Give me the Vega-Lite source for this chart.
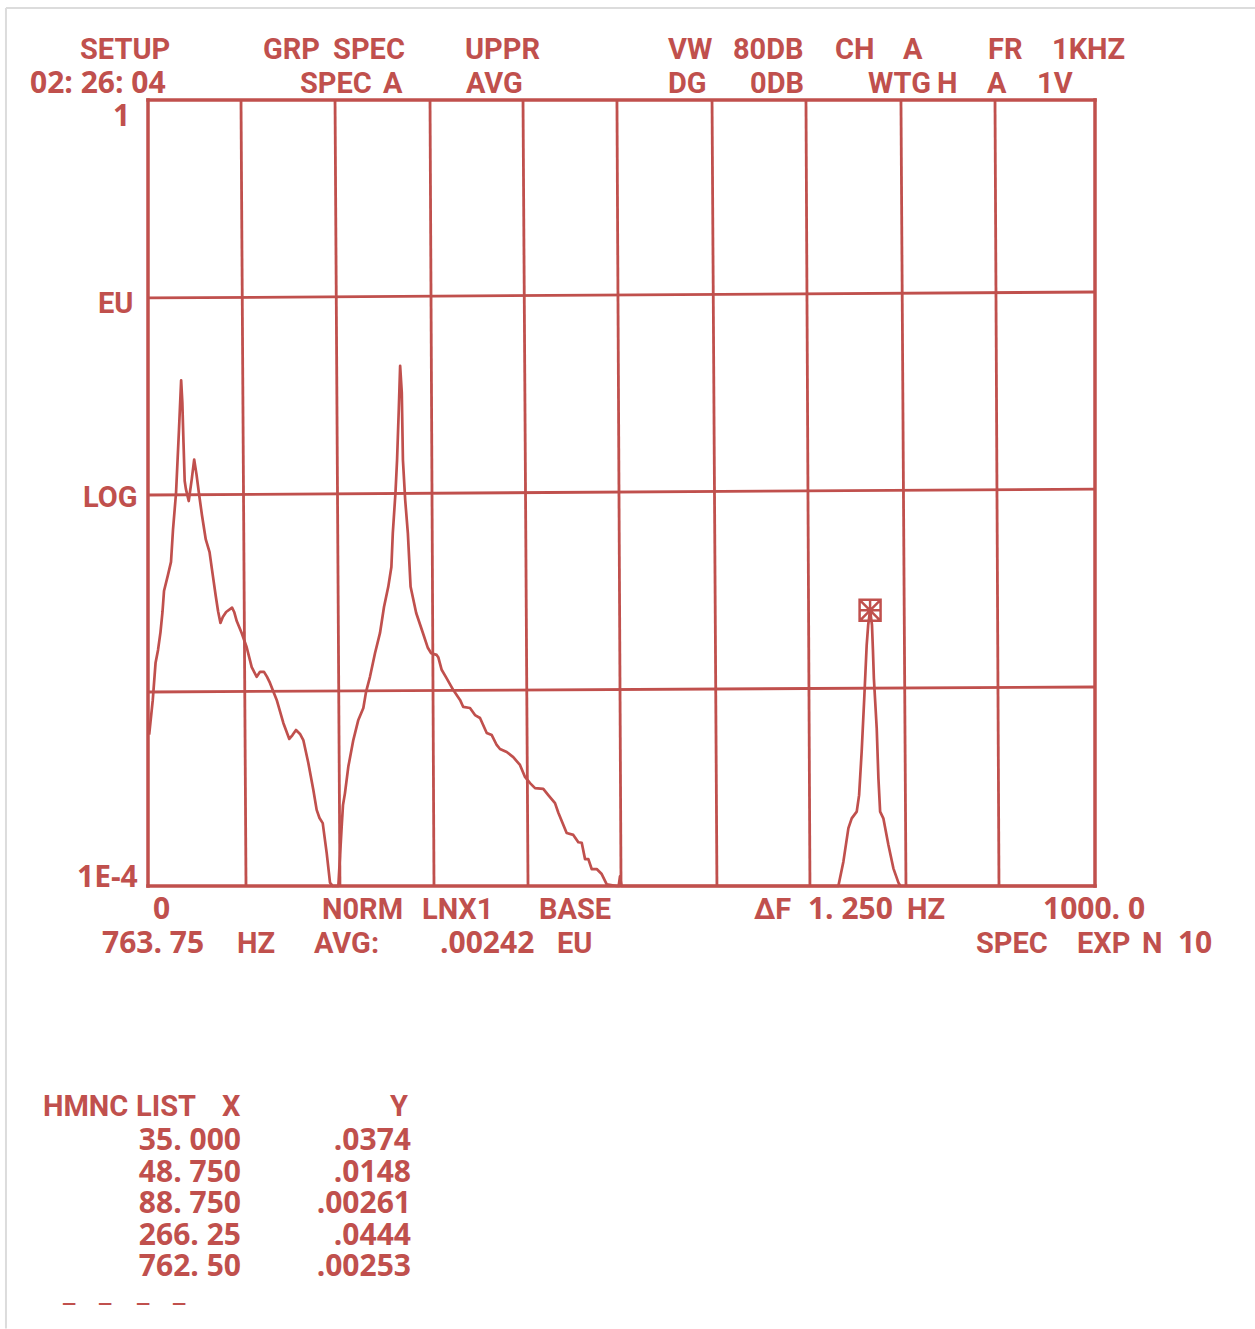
{
  "$schema": "https://vega.github.io/schema/vega-lite/v6.json",
  "width": 947,
  "height": 786,
  "autosize": {"type": "none"},
  "padding": {"left": 148, "top": 100, "right": 160, "bottom": 443},
  "background": "white",
  "config": {"view": {"stroke": null}},
  "datasets": {
    "frame": [
      {"f1": -150, "f2": -150, "v1": 2.94, "v2": 5.6e-7},
      {"f1": -150, "f2": 1169, "v1": 2.94, "v2": 2.94}
    ],
    "grid": [
      {"f1": 98.2, "f2": 103.5, "v1": 1, "v2": 0.0001},
      {"f1": 197.5, "f2": 202.7, "v1": 1, "v2": 0.0001},
      {"f1": 297.8, "f2": 302.0, "v1": 1, "v2": 0.0001},
      {"f1": 396.0, "f2": 401.3, "v1": 1, "v2": 0.0001},
      {"f1": 495.2, "f2": 499.5, "v1": 1, "v2": 0.0001},
      {"f1": 595.6, "f2": 600.8, "v1": 1, "v2": 0.0001},
      {"f1": 694.8, "f2": 699.0, "v1": 1, "v2": 0.0001},
      {"f1": 795.1, "f2": 800.4, "v1": 1, "v2": 0.0001},
      {"f1": 894.4, "f2": 898.6, "v1": 1, "v2": 0.0001},
      {"f1": 0, "f2": 1000, "v1": 0.0983, "v2": 0.1054},
      {"f1": 0, "f2": 1000, "v1": 0.00977, "v2": 0.01047},
      {"f1": 0, "f2": 1000, "v1": 0.000971, "v2": 0.00103}
    ],
    "border": [
      {"f1": 0, "f2": 1000, "v1": 1, "v2": 1},
      {"f1": 0, "f2": 1000, "v1": 0.0001, "v2": 0.0001},
      {"f1": 0, "f2": 0, "v1": 1, "v2": 0.0001},
      {"f1": 1000, "f2": 1000, "v1": 1, "v2": 0.0001}
    ],
    "spectrum": [
      {"f": 1.25, "v": 0.00059}, {"f": 5.0, "v": 0.00088}, {"f": 8.0, "v": 0.00137},
      {"f": 10.6, "v": 0.00159}, {"f": 13.2, "v": 0.00196}, {"f": 15.3, "v": 0.00248},
      {"f": 16.9, "v": 0.00317}, {"f": 21.1, "v": 0.00383}, {"f": 24.3, "v": 0.00446},
      {"f": 26.4, "v": 0.0065}, {"f": 29.6, "v": 0.01}, {"f": 32.7, "v": 0.0209},
      {"f": 35.0, "v": 0.0374}, {"f": 36.25, "v": 0.029}, {"f": 37.5, "v": 0.018},
      {"f": 38.75, "v": 0.0115}, {"f": 40.0, "v": 0.0105}, {"f": 43.0, "v": 0.0091},
      {"f": 46.25, "v": 0.0118}, {"f": 48.75, "v": 0.0148}, {"f": 51.25, "v": 0.0124},
      {"f": 53.75, "v": 0.01}, {"f": 57.0, "v": 0.0077}, {"f": 61.0, "v": 0.0058},
      {"f": 65.0, "v": 0.005}, {"f": 67.5, "v": 0.0041}, {"f": 71.5, "v": 0.003},
      {"f": 74.0, "v": 0.0025}, {"f": 76.5, "v": 0.00218}, {"f": 79.0, "v": 0.00234},
      {"f": 82.5, "v": 0.00248}, {"f": 88.75, "v": 0.00261}, {"f": 91.0, "v": 0.00248},
      {"f": 93.7, "v": 0.00223}, {"f": 98.9, "v": 0.00194}, {"f": 104.2, "v": 0.00164},
      {"f": 109.5, "v": 0.0013}, {"f": 114.8, "v": 0.00116}, {"f": 118.3, "v": 0.00123},
      {"f": 122.5, "v": 0.00123}, {"f": 125.7, "v": 0.00116}, {"f": 128.8, "v": 0.00108},
      {"f": 135.9, "v": 0.000885}, {"f": 142.9, "v": 0.000676}, {"f": 149.2, "v": 0.00056},
      {"f": 152.6, "v": 0.000586}, {"f": 156.3, "v": 0.000622}, {"f": 160.5, "v": 0.000594},
      {"f": 164.0, "v": 0.000553}, {"f": 169.3, "v": 0.000423}, {"f": 174.6, "v": 0.000308},
      {"f": 178.1, "v": 0.000244}, {"f": 181.1, "v": 0.000222}, {"f": 184.5, "v": 0.000209},
      {"f": 188.7, "v": 0.000147}, {"f": 192.2, "v": 0.000104}, {"f": 195.0, "v": 0.0001},
      {"f": 201.0, "v": 0.0001}, {"f": 204.5, "v": 0.0002}, {"f": 205.9, "v": 0.000258},
      {"f": 208.0, "v": 0.000297}, {"f": 211.5, "v": 0.000404}, {"f": 216.8, "v": 0.000553},
      {"f": 222.1, "v": 0.0007}, {"f": 227.4, "v": 0.000805}, {"f": 230.2, "v": 0.00097},
      {"f": 234.4, "v": 0.00116}, {"f": 239.7, "v": 0.00153}, {"f": 245.0, "v": 0.00194},
      {"f": 249.2, "v": 0.00263}, {"f": 253.7, "v": 0.00333}, {"f": 257.0, "v": 0.0042},
      {"f": 258.5, "v": 0.00625}, {"f": 261.3, "v": 0.01}, {"f": 263.0, "v": 0.0147},
      {"f": 264.8, "v": 0.0264}, {"f": 266.25, "v": 0.0444}, {"f": 268.0, "v": 0.0323},
      {"f": 269.2, "v": 0.0147}, {"f": 271.6, "v": 0.0092}, {"f": 274.4, "v": 0.00625},
      {"f": 277.3, "v": 0.00333}, {"f": 283.2, "v": 0.00245}, {"f": 290.3, "v": 0.00194},
      {"f": 295.5, "v": 0.00163}, {"f": 299.0, "v": 0.00153}, {"f": 304.8, "v": 0.0015},
      {"f": 306.5, "v": 0.00146}, {"f": 310.1, "v": 0.00126}, {"f": 315.4, "v": 0.00114},
      {"f": 322.4, "v": 0.000993}, {"f": 329.5, "v": 0.000885}, {"f": 332.9, "v": 0.000815},
      {"f": 340.0, "v": 0.000805}, {"f": 345.3, "v": 0.000741}, {"f": 350.6, "v": 0.000716},
      {"f": 357.7, "v": 0.000601}, {"f": 363.0, "v": 0.000586}, {"f": 368.2, "v": 0.000522},
      {"f": 371.7, "v": 0.000498}, {"f": 378.8, "v": 0.000481}, {"f": 385.7, "v": 0.000453},
      {"f": 392.8, "v": 0.000413}, {"f": 398.1, "v": 0.000359}, {"f": 403.4, "v": 0.000334},
      {"f": 408.7, "v": 0.000315}, {"f": 417.4, "v": 0.000312}, {"f": 422.7, "v": 0.00029},
      {"f": 429.8, "v": 0.000264}, {"f": 433.3, "v": 0.000236}, {"f": 442.1, "v": 0.000186},
      {"f": 449.1, "v": 0.000182}, {"f": 454.4, "v": 0.000167}, {"f": 458.0, "v": 0.000166},
      {"f": 461.5, "v": 0.000137}, {"f": 465.0, "v": 0.000137}, {"f": 468.5, "v": 0.000122},
      {"f": 473.8, "v": 0.000122}, {"f": 479.1, "v": 0.000115}, {"f": 484.4, "v": 0.000102},
      {"f": 495.0, "v": 0.0001}, {"f": 497.0, "v": 0.0001}, {"f": 498.4, "v": 0.000112},
      {"f": 500.0, "v": 0.0001}, {"f": 729.0, "v": 0.0001}, {"f": 734.3, "v": 0.000133},
      {"f": 739.6, "v": 0.000197}, {"f": 743.1, "v": 0.000221}, {"f": 748.4, "v": 0.000239},
      {"f": 750.9, "v": 0.00029}, {"f": 753.6, "v": 0.000482}, {"f": 756.5, "v": 0.000938},
      {"f": 758.9, "v": 0.00168}, {"f": 760.5, "v": 0.00213}, {"f": 762.5, "v": 0.00253},
      {"f": 764.5, "v": 0.00213}, {"f": 765.5, "v": 0.00159}, {"f": 766.5, "v": 0.00114},
      {"f": 769.5, "v": 0.000635}, {"f": 771.3, "v": 0.000353}, {"f": 773.1, "v": 0.000239},
      {"f": 776.5, "v": 0.000221}, {"f": 781.8, "v": 0.000162}, {"f": 787.1, "v": 0.000123},
      {"f": 792.4, "v": 0.000104}, {"f": 794.5, "v": 0.0001}, {"f": 1000.0, "v": 0.0001}
    ],
    "marker": [{"f": 762.5, "v": 0.00253}],
    "words": [
      {"t": "SETUP", "f": -71.8, "v": 1.617},
      {"t": "GRP", "f": 121.4, "v": 1.617},
      {"t": "SPEC", "f": 195.4, "v": 1.617},
      {"t": "UPPR", "f": 334.7, "v": 1.617},
      {"t": "VW", "f": 549.1, "v": 1.617},
      {"t": "80DB", "f": 617.7, "v": 1.617},
      {"t": "CH", "f": 725.4, "v": 1.617},
      {"t": "A", "f": 797.3, "v": 1.617},
      {"t": "FR", "f": 887.0, "v": 1.617},
      {"t": "1KHZ", "f": 954.6, "v": 1.617},
      {"t": "SPEC", "f": 160.5, "v": 1.086},
      {"t": "A", "f": 248.2, "v": 1.086},
      {"t": "AVG", "f": 335.8, "v": 1.086},
      {"t": "DG", "f": 549.1, "v": 1.086},
      {"t": "0DB", "f": 635.7, "v": 1.086},
      {"t": "WTG", "f": 760.3, "v": 1.086},
      {"t": "H", "f": 833.2, "v": 1.086},
      {"t": "A", "f": 886.0, "v": 1.086},
      {"t": "1V", "f": 938.8, "v": 1.086},
      {"t": "EU", "f": -52.8, "v": 0.0824},
      {"t": "LOG", "f": -68.6, "v": 0.00849},
      {"t": "N0RM", "f": 183.7, "v": 6.79e-5},
      {"t": "LNX1", "f": 289.3, "v": 6.79e-5},
      {"t": "BASE", "f": 412.9, "v": 6.79e-5},
      {"t": "ΔF", "f": 639.9, "v": 6.79e-5},
      {"t": "HZ", "f": 801.5, "v": 6.79e-5},
      {"t": "HZ", "f": 94.0, "v": 4.56e-5},
      {"t": "AVG:", "f": 175.3, "v": 4.56e-5},
      {"t": "EU", "f": 431.9, "v": 4.56e-5},
      {"t": "SPEC", "f": 874.3, "v": 4.56e-5},
      {"t": "EXP", "f": 981.0, "v": 4.56e-5},
      {"t": "N", "f": 1049.6, "v": 4.56e-5},
      {"t": "HMNC", "f": -110.9, "v": 6.76e-6},
      {"t": "LIST", "f": -12.7, "v": 6.76e-6},
      {"t": "X", "f": 78.1, "v": 6.76e-6},
      {"t": "Y", "f": 255.5, "v": 6.76e-6}
    ],
    "numbers": [
      {"t": "02: 26: 04", "f": -124.6, "v": 1.086},
      {"t": "1", "f": -37.0, "v": 0.737},
      {"t": "1E-4", "f": -75.0, "v": 9.89e-5},
      {"t": "0", "f": 5.3, "v": 6.79e-5},
      {"t": "1. 250", "f": 696.9, "v": 6.79e-5},
      {"t": "1000. 0", "f": 945.1, "v": 6.79e-5},
      {"t": "763. 75", "f": -48.6, "v": 4.56e-5},
      {"t": ".00242", "f": 308.3, "v": 4.56e-5},
      {"t": "10", "f": 1087.6, "v": 4.56e-5},
      {"t": "_", "f": -89.8, "v": 7.82e-7},
      {"t": "_", "f": -51.7, "v": 7.82e-7},
      {"t": "_", "f": -11.6, "v": 7.82e-7},
      {"t": "_", "f": 26.4, "v": 7.82e-7}
    ],
    "harmonicList": [
      {"t": "35. 000", "f": 98.2, "v": 4.53e-6},
      {"t": "48. 750", "f": 98.2, "v": 3.12e-6},
      {"t": "88. 750", "f": 98.2, "v": 2.17e-6},
      {"t": "266. 25", "f": 98.2, "v": 1.49e-6},
      {"t": "762. 50", "f": 98.2, "v": 1.04e-6},
      {"t": ".0374", "f": 277.7, "v": 4.53e-6},
      {"t": ".0148", "f": 277.7, "v": 3.12e-6},
      {"t": ".00261", "f": 277.7, "v": 2.17e-6},
      {"t": ".0444", "f": 277.7, "v": 1.49e-6},
      {"t": ".00253", "f": 277.7, "v": 1.04e-6}
    ]
  },
  "layer": [
    {
      "data": {"name": "frame"},
      "mark": {"type": "rule", "color": "#dcdcdc", "strokeWidth": 2},
      "encoding": {
        "x": {"field": "f1", "type": "quantitative", "scale": {"domain": [0, 1000], "nice": false, "zero": false}, "axis": null},
        "x2": {"field": "f2"},
        "y": {"field": "v1", "type": "quantitative", "scale": {"type": "log", "domain": [0.0001, 1], "nice": false}, "axis": null},
        "y2": {"field": "v2"}
      }
    },
    {
      "data": {"name": "grid"},
      "mark": {"type": "rule", "color": "#c0504d", "strokeWidth": 2.8},
      "encoding": {
        "x": {"field": "f1", "type": "quantitative", "scale": {"domain": [0, 1000], "nice": false, "zero": false}, "axis": null},
        "x2": {"field": "f2"},
        "y": {"field": "v1", "type": "quantitative", "scale": {"type": "log", "domain": [0.0001, 1], "nice": false}, "axis": null},
        "y2": {"field": "v2"}
      }
    },
    {
      "data": {"name": "border"},
      "mark": {"type": "rule", "color": "#c0504d", "strokeWidth": 3.5, "strokeCap": "square"},
      "encoding": {
        "x": {"field": "f1", "type": "quantitative", "scale": {"domain": [0, 1000], "nice": false, "zero": false}, "axis": null},
        "x2": {"field": "f2"},
        "y": {"field": "v1", "type": "quantitative", "scale": {"type": "log", "domain": [0.0001, 1], "nice": false}, "axis": null},
        "y2": {"field": "v2"}
      }
    },
    {
      "data": {"name": "spectrum"},
      "mark": {"type": "line", "color": "#c0504d", "strokeWidth": 2.7, "strokeJoin": "round"},
      "encoding": {
        "x": {"field": "f", "type": "quantitative", "scale": {"domain": [0, 1000], "nice": false, "zero": false}, "axis": null},
        "y": {"field": "v", "type": "quantitative", "scale": {"type": "log", "domain": [0.0001, 1], "nice": false}, "axis": null}
      }
    },
    {
      "data": {"name": "marker"},
      "mark": {"type": "point", "shape": "M-1,-1H1V1H-1ZM-1,-1L1,1M-1,1L1,-1M0,-1V1M-1,0H1", "size": 440, "filled": false, "color": "#c0504d", "strokeWidth": 2.5, "opacity": 1},
      "encoding": {
        "x": {"field": "f", "type": "quantitative", "scale": {"domain": [0, 1000], "nice": false, "zero": false}, "axis": null},
        "y": {"field": "v", "type": "quantitative", "scale": {"type": "log", "domain": [0.0001, 1], "nice": false}, "axis": null}
      }
    },
    {
      "data": {"name": "words"},
      "mark": {"type": "text", "font": "Roboto", "fontSize": 29, "fontWeight": "bold", "color": "#c0504d", "align": "left", "baseline": "alphabetic"},
      "encoding": {
        "x": {"field": "f", "type": "quantitative", "scale": {"domain": [0, 1000], "nice": false, "zero": false}, "axis": null},
        "y": {"field": "v", "type": "quantitative", "scale": {"type": "log", "domain": [0.0001, 1], "nice": false}, "axis": null},
        "text": {"field": "t", "type": "nominal"}
      }
    },
    {
      "data": {"name": "numbers"},
      "mark": {"type": "text", "font": "Open Sans", "fontSize": 30, "fontWeight": "bold", "color": "#c0504d", "align": "left", "baseline": "alphabetic"},
      "encoding": {
        "x": {"field": "f", "type": "quantitative", "scale": {"domain": [0, 1000], "nice": false, "zero": false}, "axis": null},
        "y": {"field": "v", "type": "quantitative", "scale": {"type": "log", "domain": [0.0001, 1], "nice": false}, "axis": null},
        "text": {"field": "t", "type": "nominal"}
      }
    },
    {
      "data": {"name": "harmonicList"},
      "mark": {"type": "text", "font": "Open Sans", "fontSize": 30, "fontWeight": "bold", "color": "#c0504d", "align": "right", "baseline": "alphabetic"},
      "encoding": {
        "x": {"field": "f", "type": "quantitative", "scale": {"domain": [0, 1000], "nice": false, "zero": false}, "axis": null},
        "y": {"field": "v", "type": "quantitative", "scale": {"type": "log", "domain": [0.0001, 1], "nice": false}, "axis": null},
        "text": {"field": "t", "type": "nominal"}
      }
    }
  ]
}
